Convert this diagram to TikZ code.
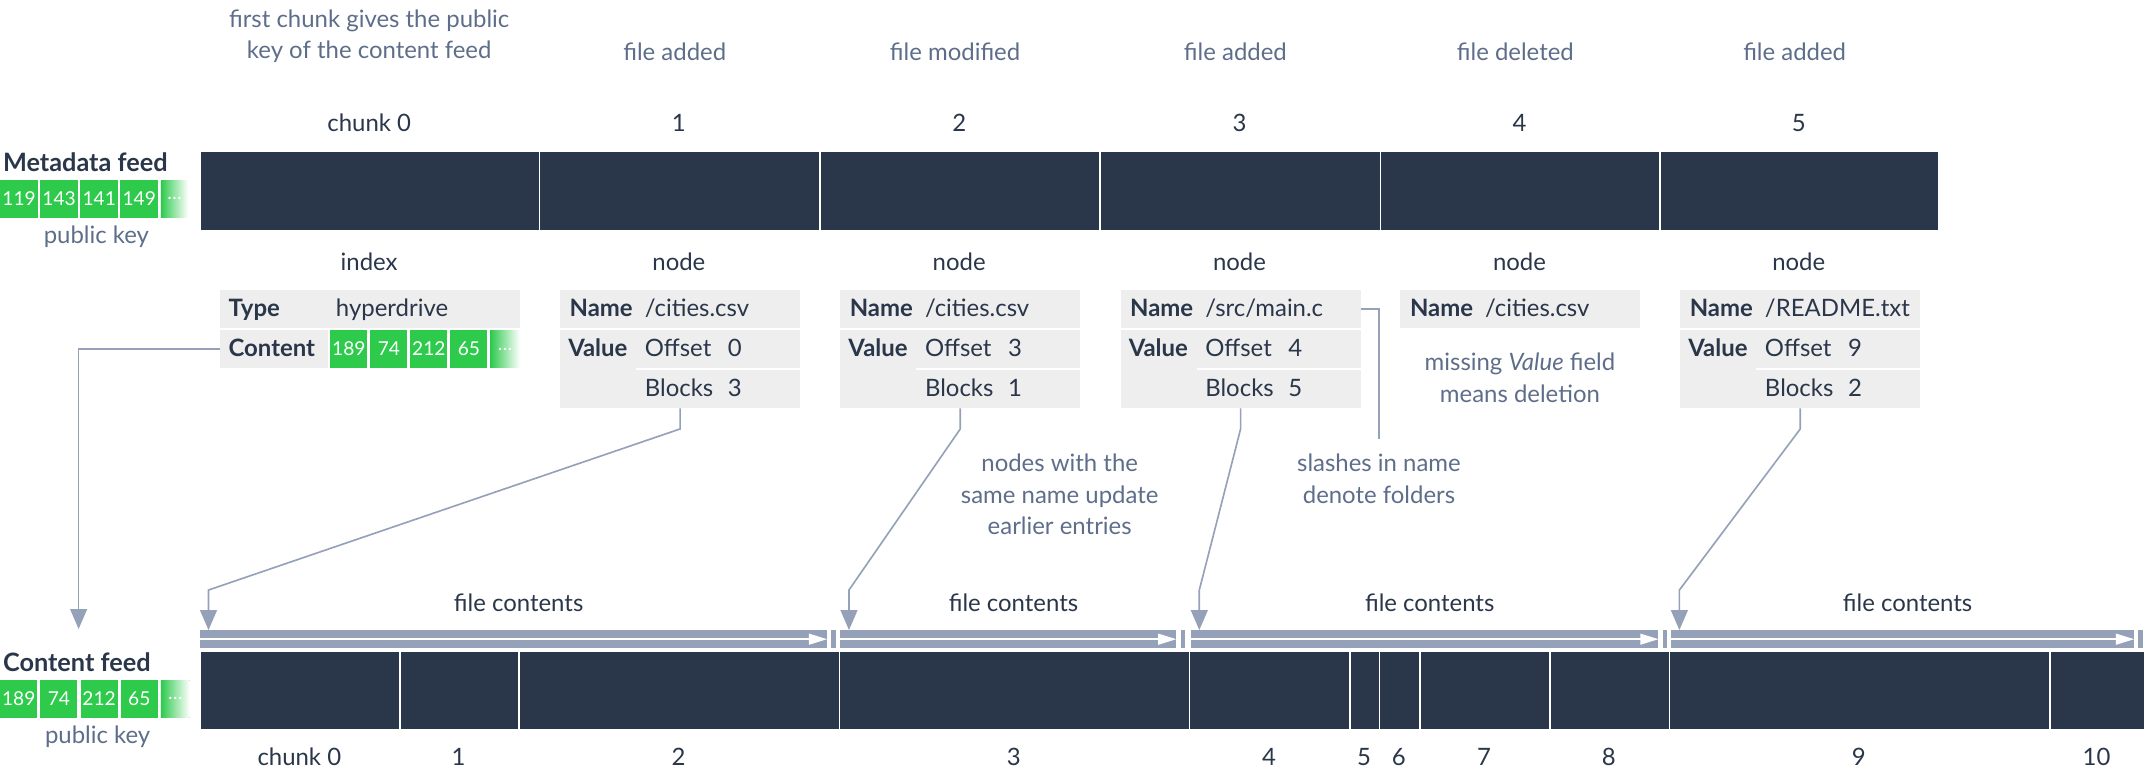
\documentclass[tikz,border=0pt]{standalone}
\usepackage{fontspec}
\setmainfont{Lato}
\usepackage{tikz}
\usetikzlibrary{positioning}
\usetikzlibrary{arrows.meta}
\definecolor{navy}{HTML}{2A3649}
\definecolor{cellgrey}{HTML}{EEEEEE}
\definecolor{keygreen}{HTML}{2DCA4C}
\definecolor{linkgrey}{HTML}{94A1B8}
\definecolor{notegrey}{HTML}{5E6E8A}

\begin{document}
\begin{tikzpicture}
    [x=1pt, y=-1pt,
    every node/.style={font=\fontsize{17.5}{23}\selectfont, text=navy, inner sep=0pt},
    note/.style={text=notegrey, align=center},
    feedname/.style={font=\fontsize{18.5}{20}\selectfont\bfseries, anchor=west},
    block/.style={fill=navy, draw=white, line width=1.2pt, anchor=north west, minimum height=58pt},
    cell/.style={fill=cellgrey, anchor=north west, minimum height=27.6pt},
    keycell/.style={fill=keygreen, text=white, anchor=north west, minimum height=27.3pt,
      minimum width=27.5pt, font=\fontsize{14}{15}\selectfont},
    fadecell/.style={keycell, left color=keygreen, right color=white, minimum width=20pt},
    band/.style={fill=linkgrey, anchor=north west, minimum height=12.9pt},
    link/.style={draw=linkgrey, line width=1.2pt},
    drop/.style={link, -{Triangle[length=14.6pt, width=12.3pt]}},
    txt/.style={anchor=base west}]

    \useasboundingbox (0,0) rectangle (1568,563.1);

    % Metadata feed
    \node[feedname] (mfeed) at (2,118.7) {Metadata feed};
    \foreach \v [count=\j] in {119,143,141,149}
      \node[keycell] (mk\j) at ({(\j-1)*29.3},131.6) {\v};
    \node[fadecell] (mk5) at (117.4,131.6) {\dots};
    \node[note] (mpub) at (70.5,173) {public key};

    \foreach \a/\b/\lab [count=\i from 0] in {146/394/chunk 0,394/599/1,599/804/2,
      804/1009/3,1009/1213.5/4,1213.5/1417.5/5}{
      \node[block, minimum width={(\b-\a)*1pt}] (m\i) at (\a,110) {};
      \node (mlab\i) at ({(\a+\b)/2},90) {\lab};
    }
    \node[note] (evnote) at (270,26.5) {first chunk gives the public\\key of the content feed};
    \foreach \i/\ev in {1/file added,2/file modified,3/file added,4/file deleted,5/file added}
      \node[note] (ev\i) at ([xshift=-3pt]mlab\i |- 0,38) {\ev};

    % Entries
    \node (ilab) at (270,191.4) {index};
    \foreach \i in {1,...,5}
      \node (nlab\i) at (mlab\i |- 0,191.4) {node};

    \node[cell, minimum width=219.4pt] (type) at (160.6,212) {};
    \node[txt] (typek) at (167,231.6) {\bfseries Type};
    \node[txt] (typev) at (245.5,231.6) {hyperdrive};
    \node[cell, minimum width=78.9pt] (content) at (160.6,241.4) {};
    \node[txt] (contentk) at (167,261) {\bfseries Content};
    \foreach \v [count=\j] in {189,74,212,65}
      \node[keycell, minimum width=27.1pt] (ik\j) at ({241.4+(\j-1)*29.25},241.4) {\v};
    \node[fadecell, minimum width=21.6pt] (ik5) at (358.4,241.4) {\dots};

    \foreach \i/\a/\nm/\off/\blk in {1/409.4/{/cities.csv}/0/3,2/614.3/{/cities.csv}/3/1,
      3/819.3/{/src/main.c}/4/5,5/1228.6/{/README.txt}/9/2}{
      \node[cell, minimum width=175.6pt] (n\i) at (\a,212) {};
      \node[txt] (nk\i) at (\a+7,231.6) {\bfseries Name};
      \node[txt] (nv\i) at (\a+62,231.6) {\nm};
      \node[cell, minimum width=175.6pt, minimum height=56.8pt] (v\i) at (\a,241.4) {};
      \draw[white, line width=1.8pt] ([xshift=55.8pt]v\i.west) -- (v\i.east);
      \node[txt] (vk\i) at (\a+6,261) {\bfseries Value};
      \node[txt] (off\i) at (\a+62,261) {Offset};
      \node[anchor=base] (offv\i) at (\a+128,261) {\off};
      \node[txt] (blk\i) at (\a+62,290.2) {Blocks};
      \node[anchor=base] (blkv\i) at (\a+128,290.2) {\blk};
    }
    \node[cell, minimum width=175.2pt] (n4) at (1024,212) {};
    \node[txt] (nk4) at (1031,231.6) {\bfseries Name};
    \node[txt] (nv4) at (1086,231.6) {/cities.csv};
    \node[note] (delnote) at (1111.6,276.2) {missing \emph{Value} field\\means deletion};

    % Notes
    \node[note] (samenote) at (775,361.5) {nodes with the\\same name update\\earlier entries};
    \node[note] (slashnote) at (1008.5,350) {slashes in name\\denote folders};
    \coordinate (slashtop) at (1008.5,321.3);
    \draw[link] (n3.east) -| (slashtop);

    % Content feed
    \node[feedname] (cfeed) at (2,484) {Content feed};
    \foreach \v [count=\j] in {189,74,212,65}
      \node[keycell, minimum width=27pt] (ck\j) at ({(\j-1)*29.4},497.3) {\v};
    \node[fadecell, minimum width=21pt] (ck5) at (117.5,497.3) {\dots};
    \node[note] (cpub) at (71.4,538.8) {public key};

    \foreach \a/\b [count=\i] in {146/604.6,614.4/860,870.6/1212.6,1221.7/1560.5}{
      \node[band, minimum width={(\b-\a)*1pt}] (b\i) at (\a,460.8) {};
      \draw[white, line width=1.5pt, -{Triangle[length=13.4pt, width=7.8pt]}]
        (b\i.west) -- (b\i.east);
      \fill[linkgrey] ([xshift=3pt]b\i.north east) rectangle ([xshift=6.4pt]b\i.south east);
      \node (fc\i) at ({(\a+\b)/2+4},441) {file contents};
      \coordinate (d\i) at ([xshift=6.5pt]b\i.north west);
    }

    \foreach \a/\b/\lab [count=\i from 0] in {146/291.8/chunk 0,291.8/379.1/1,379.1/613.4/2,
      613.4/869.3/3,869.3/986.9/4,986.9/1008.3/5,1008.3/1037.7/6,1037.7/1133/7,
      1133/1220.3/8,1220.3/1498.6/9,1498.6/1570/10}{
      \node[block, minimum width={(\b-\a)*1pt}] (c\i) at (\a,475.4) {};
    }
    \foreach \a/\b/\lab [count=\i from 0] in {146/291.8/chunk 0,291.8/379.1/1,379.1/613.4/2,
      613.4/869.3/3,869.3/986.9/4,986.9/1008.3/5,1008.3/1037.7/6,1037.7/1133/7,
      1133/1220.3/8,1220.3/1498.6/9,1498.6/1568/10}
      \node (clab\i) at ({(\a+\b)/2},553.5) {\lab};

    % Links into the content feed
    \coordinate (dk) at (57.5,460);
    \draw[drop] (content.west) -| (dk);
    \foreach \i/\j in {1/1,2/2,3/3,5/4}
      \draw[drop] (v\i.south) -- ++(0,15.1) -- ([yshift=29.3pt]d\j) -- (d\j);

\end{tikzpicture}
\end{document}
